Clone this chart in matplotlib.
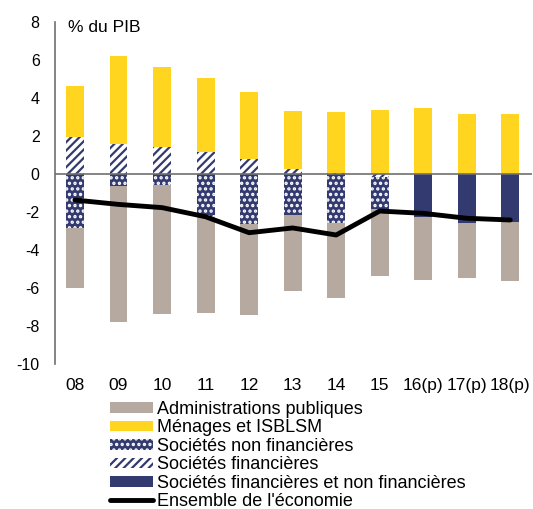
import numpy as np
import matplotlib.pyplot as plt

plt.rcParams['font.family'] = ['Liberation Sans', 'DejaVu Sans']
plt.rcParams['hatch.linewidth'] = 1.6
plt.rcParams['axes.unicode_minus'] = False

years = ['08', '09', '10', '11', '12', '13', '14', '15', '16(p)', '17(p)', '18(p)']
admin = [-3.16, -7.18, -6.81, -5.07, -4.81, -4.00, -3.98, -3.51, -3.33, -2.93, -3.10]
menages = [2.69, 4.65, 4.21, 3.91, 3.54, 3.07, 3.25, 3.39, 3.46, 3.14, 3.16]
snf = [-2.86, -0.63, -0.56, -2.25, -2.63, -2.16, -2.56, -1.71, 0, 0, 0]
sf = [1.96, 1.58, 1.40, 1.14, 0.79, 0.26, 0.03, -0.15, 0, 0, 0]
sfnf = [0, 0, 0, 0, 0, 0, 0, 0, -2.25, -2.56, -2.51]
ensemble = [-1.37, -1.60, -1.77, -2.25, -3.09, -2.84, -3.21, -1.95, -2.07, -2.33, -2.42]

navy = '#333A70'
fig = plt.figure(figsize=(5.33, 5.09), dpi=100)
ax = fig.add_axes([55/533, 1-364/509, 477/533, 342/509])

x = np.arange(len(years))
w = 0.41
pos = np.zeros(len(x))
neg = np.zeros(len(x))

# stacking order from zero outward
series = [
    ('sf', sf, dict(facecolor='white', edgecolor=navy, hatch='////', lw=0)),
    ('snf', snf, dict(facecolor=navy, edgecolor='white', hatch='...', lw=0)),
    ('sfnf', sfnf, dict(facecolor=navy, edgecolor=navy, lw=0)),
    ('men', menages, dict(facecolor='#FFD520', edgecolor='#FFD520', lw=0)),
    ('adm', admin, dict(facecolor='#B5A9A0', edgecolor='#B5A9A0', lw=0)),
]
handles = {}
for key, vals, style in series:
    v = np.array(vals)
    bottom = np.where(v >= 0, pos, neg)
    bars = ax.bar(x, v, w, bottom=bottom, **style)
    pos = pos + np.where(v > 0, v, 0)
    neg = neg + np.where(v < 0, v, 0)
    handles[key] = bars

line, = ax.plot(x, ensemble, color='black', lw=3.5, solid_capstyle='round')
ax.axhline(0, color='#707070', lw=1.2)

ax.set_ylim(-10, 8)
ax.set_xlim(-0.46, 10.5)
ax.set_yticks(range(-10, 9, 2))
ax.set_xticks(x)
ax.set_xticklabels(years, fontsize=12.5)
ax.tick_params(axis='y', labelsize=11.5, length=0, pad=11)
ax.tick_params(axis='x', length=0, pad=10)
for s in ['top', 'right', 'bottom']:
    ax.spines[s].set_visible(False)
ax.spines['left'].set_color('#707070')
ax.spines['left'].set_linewidth(1.2)

fig.text(68/533, 1-28/509, '% du PIB', fontsize=12.5, va='center')

leg = fig.legend([handles['adm'], handles['men'], handles['snf'], handles['sf'], handles['sfnf'], line],
                 ['Administrations publiques', 'Ménages et ISBLSM', 'Sociétés non financières',
                  'Sociétés financières', 'Sociétés financières et non financières',
                  "Ensemble de l'économie"],
                 loc='upper left', bbox_to_anchor=(110/533, 1-401/509), frameon=False,
                 fontsize=13, handlelength=2.4, handleheight=0.5, handletextpad=0.2,
                 labelspacing=0.08, borderpad=0, borderaxespad=0)

fig.savefig('out.png', dpi=100)
